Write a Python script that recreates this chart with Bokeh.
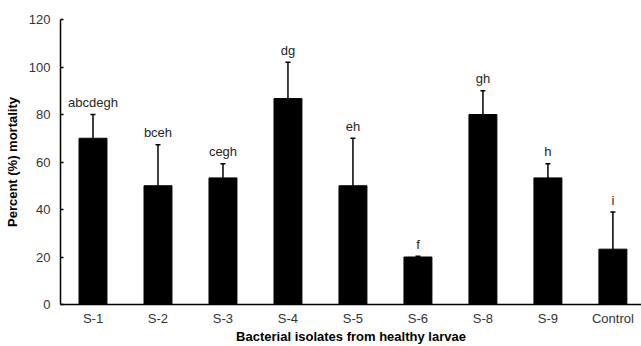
from bokeh.plotting import figure
from bokeh.models import Range1d, FixedTicker, ColumnDataSource, Whisker, TeeHead
from bokeh.core.properties import value
from bokeh.embed import file_html
from bokeh.resources import INLINE

categories = ["S-1", "S-2", "S-3", "S-4", "S-5", "S-6", "S-8", "S-9", "Control"]
mortality = [70.0, 50.0, 53.3, 86.7, 50.0, 20.0, 80.0, 53.3, 23.3]
error_upper = [80.0, 67.3, 59.3, 102.0, 70.0, 20.3, 90.0, 59.3, 38.9]
letters = ["abcdegh", "bceh", "cegh", "dg", "eh", "f", "gh", "h", "i"]
y_ticks = [0, 20, 40, 60, 80, 100, 120]

positions = list(range(len(categories)))
src = ColumnDataSource(dict(x=positions, top=mortality, upper=error_upper, lab=letters))

FONT = "Liberation Sans"

p = figure(width=641, height=346, output_backend="svg", toolbar_location=None,
           x_range=Range1d(-0.5, 8.44), y_range=Range1d(0, 120),
           min_border_left=60, min_border_right=0, min_border_top=19, min_border_bottom=42)
p.outline_line_color = None
p.xgrid.visible = False
p.ygrid.visible = False
p.background_fill_color = "white"
p.border_fill_color = "white"

p.vbar(x="x", top="top", width=0.43, bottom=0, source=src, fill_color="black", line_color="black")

w = Whisker(base="x", lower="top", upper="upper", source=src, line_color="black", line_width=1.5,
            upper_head=TeeHead(size=5, line_color="black", line_width=1.5), lower_head=None)
p.add_layout(w)

p.text(x="x", y="upper", text="lab", source=src, text_align="center", text_baseline="alphabetic",
       y_offset=-12, text_font=value(FONT), text_font_size="13px", text_color="#262626")

# x axis
p.xaxis.ticker = FixedTicker(ticks=positions)
p.xaxis.major_label_overrides = {i: c for i, c in enumerate(categories)}
p.xaxis.major_tick_line_color = None
p.xaxis.minor_tick_line_color = None
p.xaxis.axis_line_width = 1.5
p.xaxis.axis_line_color = "black"
p.xaxis.major_label_text_font = FONT
p.xaxis.major_label_text_font_size = "13px"
p.xaxis.major_label_text_color = "#333333"
p.xaxis.major_label_standoff = 0
p.xaxis.axis_label = "Bacterial isolates from healthy larvae"
p.xaxis.axis_label_text_font = FONT
p.xaxis.axis_label_text_font_size = "13px"
p.xaxis.axis_label_text_font_style = "bold"
p.xaxis.axis_label_text_color = "black"
p.xaxis.axis_label_standoff = 0

# y axis
p.yaxis.ticker = FixedTicker(ticks=y_ticks)
p.yaxis.major_tick_in = 3
p.yaxis.major_tick_out = 0
p.yaxis.minor_tick_line_color = None
p.yaxis.major_tick_line_width = 1.5
p.yaxis.axis_line_width = 1.5
p.yaxis.axis_line_color = "black"
p.yaxis.major_label_text_font = FONT
p.yaxis.major_label_text_font_size = "13px"
p.yaxis.major_label_text_color = "#333333"
p.yaxis.major_label_standoff = 10
p.yaxis.axis_label = "Percent (%) mortality"
p.yaxis.axis_label_text_font = FONT
p.yaxis.axis_label_text_font_size = "13px"
p.yaxis.axis_label_text_font_style = "bold"
p.yaxis.axis_label_text_color = "black"
p.yaxis.axis_label_standoff = 6

open("out.html", "w").write(file_html(p, INLINE))
